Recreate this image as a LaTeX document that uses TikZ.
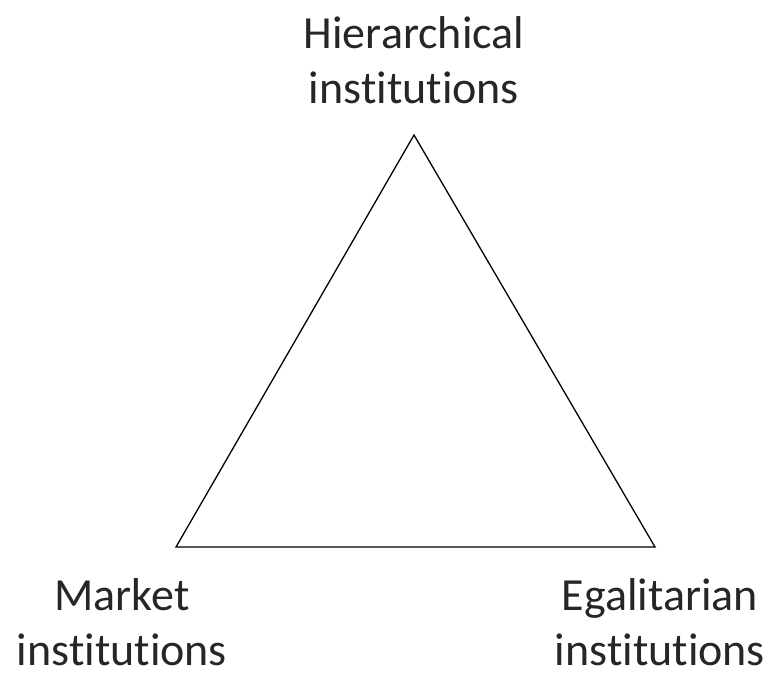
\documentclass[tikz,border=0pt]{standalone}
\usepackage{fontspec}
\setmainfont{Carlito}[RawFeature={-liga,-dlig}]
\usetikzlibrary{positioning}

\begin{document}
\begin{tikzpicture}[x=1pt, y=-1pt, every node/.style = {align=center,
	inner sep=0pt, font=\fontsize{46}{55}\selectfont, text=black!85}]
\useasboundingbox (0,0) rectangle (775,673);
\coordinate (H) at (414,135);
\coordinate (M) at (176,547);
\coordinate (E) at (655,547);

\node (hier) at (414,60) {Hierarchical\\institutions};
\node (market) at (122,622) {Market\\institutions};
\node (egal) at (660,622) {Egalitarian\\institutions};

\draw[line width=1.3pt, line join=miter] (H) -- (M) -- (E) -- cycle;
\end{tikzpicture}
\end{document}
